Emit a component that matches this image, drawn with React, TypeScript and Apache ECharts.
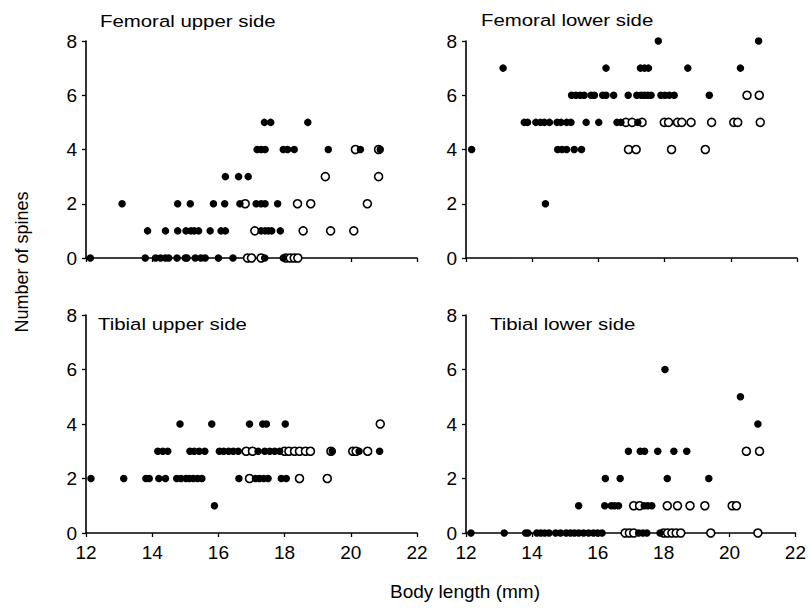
import React, { useEffect, useRef } from "react";
import * as echarts from "echarts";

// Body length (mm) vs number of spines; filled = one group, open = other group
const femUpperFilled: number[][] = [
  [12.13, 0], [13.79, 0], [14.1, 0], [14.25, 0], [14.4, 0], [14.5, 0], [14.75, 0], [15.0, 0], [15.05, 0], [15.3, 0], [15.47, 0], [15.6, 0], [16.0, 0], [16.44, 0], [17.4, 0], [17.96, 0],
  [13.86, 1], [14.4, 1], [14.77, 1], [15.02, 1], [15.17, 1], [15.27, 1], [15.4, 1], [15.75, 1], [16.08, 1], [16.21, 1], [17.29, 1], [17.41, 1], [17.51, 1], [17.61, 1], [17.87, 1],
  [13.09, 2], [14.77, 2], [15.15, 2], [15.85, 2], [16.19, 2], [16.65, 2], [17.14, 2], [17.29, 2], [17.41, 2], [17.79, 2],
  [16.21, 3], [16.61, 3], [16.9, 3],
  [17.17, 4], [17.29, 4], [17.41, 4], [17.96, 4], [18.09, 4], [18.29, 4], [19.32, 4], [20.29, 4], [20.89, 4],
  [17.39, 5], [17.58, 5], [18.7, 5],
];
const femUpperOpen: number[][] = [
  [16.88, 0], [17.0, 0], [17.29, 0], [18.04, 0], [18.17, 0], [18.29, 0], [18.4, 0],
  [17.1, 1], [18.56, 1], [19.39, 1], [20.09, 1],
  [16.81, 2], [18.39, 2], [18.79, 2], [20.5, 2],
  [19.23, 3], [20.84, 3],
  [20.14, 4], [20.84, 4],
];

const femLowerFilled: number[][] = [
  [17.81, 8], [20.84, 8],
  [13.12, 7], [16.23, 7], [17.27, 7], [17.39, 7], [17.51, 7], [18.7, 7], [20.29, 7],
  [15.19, 6], [15.32, 6], [15.45, 6], [15.57, 6], [15.78, 6], [15.88, 6], [16.13, 6], [16.23, 6], [16.46, 6], [16.9, 6], [17.16, 6], [17.29, 6], [17.39, 6], [17.49, 6], [17.59, 6], [17.89, 6], [18.01, 6], [18.14, 6], [18.29, 6], [19.35, 6],
  [13.76, 5], [13.86, 5], [14.11, 5], [14.25, 5], [14.37, 5], [14.52, 5], [14.75, 5], [14.87, 5], [15.04, 5], [15.17, 5], [15.63, 5], [16.01, 5], [16.56, 5], [16.68, 5], [17.19, 5],
  [12.17, 4], [14.77, 4], [14.9, 4], [15.04, 4], [15.27, 4], [15.49, 4],
  [14.4, 2],
];
const femLowerOpen: number[][] = [
  [20.49, 6], [20.86, 6],
  [16.83, 5], [17.02, 5], [17.32, 5], [17.99, 5], [18.12, 5], [18.39, 5], [18.52, 5], [18.8, 5], [19.42, 5], [20.09, 5], [20.21, 5], [20.89, 5],
  [16.91, 4], [17.14, 4], [18.21, 4], [19.23, 4],
];

const tibUpperFilled: number[][] = [
  [12.15, 2], [13.14, 2], [13.81, 2], [13.91, 2], [14.2, 2], [14.4, 2], [14.74, 2], [14.87, 2], [15.02, 2], [15.12, 2], [15.24, 2], [15.37, 2], [15.5, 2], [16.62, 2], [17.12, 2], [17.24, 2], [17.37, 2], [17.5, 2], [17.9, 2], [18.05, 2],
  [15.88, 1],
  [14.17, 3], [14.32, 3], [14.47, 3], [15.14, 3], [15.27, 3], [15.42, 3], [15.59, 3], [16.03, 3], [16.16, 3], [16.31, 3], [16.45, 3], [16.6, 3], [17.2, 3], [17.4, 3], [17.55, 3], [17.7, 3], [17.85, 3], [19.44, 3], [20.25, 3], [20.87, 3],
  [14.84, 4], [15.8, 4], [16.94, 4], [17.34, 4], [17.45, 4], [18.02, 4],
];
const tibUpperOpen: number[][] = [
  [16.94, 2], [18.45, 2], [19.29, 2],
  [16.84, 3], [17.03, 3], [18.0, 3], [18.13, 3], [18.3, 3], [18.45, 3], [18.63, 3], [18.78, 3], [19.4, 3], [20.06, 3], [20.16, 3], [20.51, 3],
  [20.89, 4],
];

const tibLowerFilled: number[][] = [
  [18.04, 6], [20.33, 5], [20.86, 4],
  [16.93, 3], [17.29, 3], [17.42, 3], [17.82, 3], [18.31, 3], [18.7, 3],
  [16.23, 2], [16.68, 2], [18.11, 2], [19.37, 2],
  [15.42, 1], [16.21, 1], [16.41, 1], [16.51, 1], [16.63, 1], [17.41, 1], [17.52, 1], [17.64, 1],
  [12.15, 0], [13.16, 0], [13.81, 0], [13.88, 0], [14.15, 0], [14.27, 0], [14.39, 0], [14.52, 0], [14.72, 0], [14.87, 0], [15.04, 0], [15.17, 0], [15.29, 0], [15.42, 0], [15.57, 0], [15.72, 0], [15.87, 0], [16.0, 0], [16.13, 0], [17.24, 0], [17.37, 0], [17.49, 0], [17.89, 0],
];
const tibLowerOpen: number[][] = [
  [20.51, 3], [20.91, 3],
  [17.09, 1], [17.27, 1], [18.11, 1], [18.42, 1], [18.8, 1], [19.25, 1], [20.08, 1], [20.21, 1],
  [16.83, 0], [16.96, 0], [17.09, 0], [18.0, 0], [18.12, 0], [18.25, 0], [18.38, 0], [18.52, 0], [19.43, 0], [20.86, 0],
];

const panelTitles = ["Femoral upper side", "Femoral lower side", "Tibial upper side", "Tibial lower side"];
const panelData = [
  [femUpperFilled, femUpperOpen],
  [femLowerFilled, femLowerOpen],
  [tibUpperFilled, tibUpperOpen],
  [tibLowerFilled, tibLowerOpen],
];
const xMin = 12, xMax = 22, xStep = 2;
const yMin = 0, yMax = 8, yStep = 2;
const xName = "Body length (mm)";
const yName = "Number of spines";

const FONT = "'Liberation Sans', Arial, Helvetica, sans-serif";
const INK = "#000";

export default function App() {
  const ref = useRef<HTMLDivElement>(null);
  useEffect(() => {
    document.body.style.margin = "0";
    if (!ref.current) return;
    const chart = echarts.init(ref.current, null, { renderer: "svg" });
    const grids = [
      { left: 86, top: 41, width: 331, height: 217 },
      { left: 466, top: 41, width: 331, height: 217 },
      { left: 86, top: 315, width: 331, height: 218 },
      { left: 466, top: 315, width: 331, height: 218 },
    ];
    const titlePos = [
      [100, 21], [481, 20], [98, 324], [490, 324],
    ];
    const lineStyle = { color: INK, width: 1.6 };
    const xAxes = grids.map((_, i) => ({
      type: "value",
      gridIndex: i,
      min: xMin,
      max: xMax,
      interval: xStep,
      axisLine: { show: true, onZero: false, lineStyle },
      axisTick: { show: true, length: 4, lineStyle: { color: INK, width: 1.3 } },
      axisLabel: {
        show: i >= 2,
        color: INK,
        fontSize: 19,
        fontFamily: FONT,
        margin: 10,
      },
      splitLine: { show: false },
    }));
    const yAxes = grids.map((_, i) => ({
      type: "value",
      gridIndex: i,
      min: yMin,
      max: yMax,
      interval: yStep,
      axisLine: { show: true, onZero: false, lineStyle },
      axisTick: { show: true, length: 4, lineStyle: { color: INK, width: 1.3 } },
      axisLabel: {
        show: true,
        color: INK,
        fontSize: 19,
        fontFamily: FONT,
        margin: 9,
      },
      splitLine: { show: false },
    }));
    const series: any[] = [];
    panelData.forEach(([filled, open], i) => {
      series.push({
        type: "scatter",
        xAxisIndex: i,
        yAxisIndex: i,
        data: open,
        symbol: "circle",
        symbolSize: 8,
        clip: false,
        itemStyle: { color: "#fff", borderColor: INK, borderWidth: 1.6, opacity: 1 },
        emphasis: { disabled: true },
      });
      series.push({
        type: "scatter",
        xAxisIndex: i,
        yAxisIndex: i,
        data: filled,
        symbol: "circle",
        symbolSize: 7.5,
        clip: false,
        itemStyle: { color: INK, opacity: 1 },
        emphasis: { disabled: true },
      });
    });
    const graphic: any[] = panelTitles.map((t, i) => ({
      type: "text",
      x: titlePos[i][0],
      y: titlePos[i][1],
      scaleX: 1.2,
      style: {
        text: t,
        fontSize: 17,
        fontFamily: FONT,
        fill: INK,
        textAlign: "left",
        textVerticalAlign: "middle",
      },
    }));
    graphic.push({
      type: "text",
      x: 465,
      y: 591,
      style: {
        text: xName,
        fontSize: 19,
        fontFamily: FONT,
        fill: INK,
        textAlign: "center",
        textVerticalAlign: "middle",
      },
    });
    graphic.push({
      type: "text",
      x: 22,
      y: 262,
      rotation: Math.PI / 2,
      style: {
        text: yName,
        fontSize: 18,
        fontFamily: FONT,
        fill: INK,
        textAlign: "center",
        textVerticalAlign: "middle",
      },
    });
    chart.setOption({
      animation: false,
      backgroundColor: "#fff",
      grid: grids,
      xAxis: xAxes,
      yAxis: yAxes,
      series,
      graphic,
    });
    return () => chart.dispose();
  }, []);
  return (
    <div
      ref={ref}
      style={{ width: 809, height: 608, position: "fixed", left: 0, top: 0 }}
    />
  );
}
